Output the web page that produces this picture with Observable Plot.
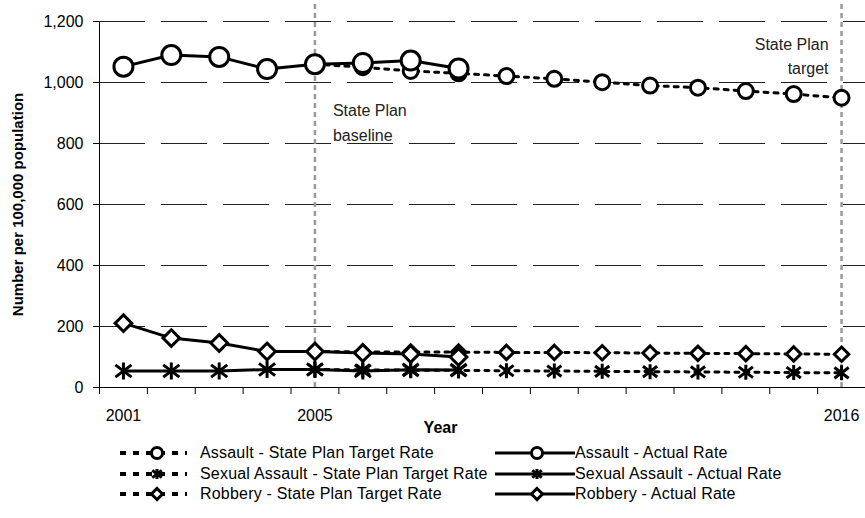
<!DOCTYPE html>
<html>
<head>
<meta charset="utf-8">
<script src="https://cdn.jsdelivr.net/npm/d3@7"></script>
<script src="https://cdn.jsdelivr.net/npm/@observablehq/plot@0.6"></script>
<style>
  html, body { margin: 0; padding: 0; background: #fff; }
  body { width: 865px; height: 518px; overflow: hidden; font-family: "Liberation Sans", Arial, sans-serif; }
  #legend { position: relative; width: 865px; height: 78px; font-size: 16px; color: #000; }
  .item { position: absolute; display: flex; align-items: center; height: 20px; white-space: nowrap; }
  .item svg { display: block; }
</style>
</head>
<body>
<div id="chart"></div>
<div id="legend"></div>
<script>
// ---- Data ----
const actualYears = [2001, 2002, 2003, 2004, 2005, 2006, 2007, 2008];
const targetYears = [2005, 2006, 2007, 2008, 2009, 2010, 2011, 2012, 2013, 2014, 2015, 2016];

const assaultActual = [1052, 1090, 1084, 1044, 1060, 1064, 1072, 1046];
const assaultTarget = [1060, 1050, 1038, 1030, 1021, 1012, 1001, 990, 983, 972, 962, 950];

const sexualActual = [54, 54, 54, 59, 59, 54, 58, 57];
const sexualTarget = [59, 58, 57, 56, 55, 54, 53, 52, 51, 50, 49, 48];

const robberyActual = [211, 162, 146, 118, 118, 113, 110, 100];
const robberyTarget = [118, 117, 116, 116, 115, 115, 114, 113, 112, 111, 110, 109];

const yTicks = [0, 200, 400, 600, 800, 1000, 1200];
const gridValues = [200, 400, 600, 800, 1000, 1200];
const xLabelYears = [2001, 2005, 2016];
const categoryBounds = d3.range(2000.5, 2017, 1);
const refYears = [2005, 2016];
const baselineNote = [{year: 2005, value: 874, text: "State Plan\nbaseline"}];
const targetNote = [{year: 2016, value: 1093, text: "State Plan\ntarget"}];
const legendLabels = [
  "Assault - State Plan Target Rate", "Assault - Actual Rate",
  "Sexual Assault - State Plan Target Rate", "Sexual Assault - Actual Rate",
  "Robbery - State Plan Target Rate", "Robbery - Actual Rate"
];

// ---- Build tidy series ----
const toRows = (years, vals) => years.map((year, i) => ({year, value: vals[i]}));
const aA = toRows(actualYears, assaultActual), aT = toRows(targetYears, assaultTarget);
const sA = toRows(actualYears, sexualActual), sT = toRows(targetYears, sexualTarget);
const rA = toRows(actualYears, robberyActual), rT = toRows(targetYears, robberyTarget);

// Excel-like star marker (vertical + X)
const star = {
  draw(ctx, size) {
    const r = Math.sqrt(size / Math.PI);
    const a = r * 0.95, b = r * 0.72;
    ctx.moveTo(0, -r); ctx.lineTo(0, r);
    ctx.moveTo(-a, -b); ctx.lineTo(a, b);
    ctx.moveTo(-a, b); ctx.lineTo(a, -b);
  }
};

const targetLine = {x: "year", y: "value", stroke: "#000", strokeWidth: 3, strokeDasharray: "4,6"};
const actualLine = {x: "year", y: "value", stroke: "#000", strokeWidth: 3};

const plot = Plot.plot({
  width: 865,
  height: 440,
  marginLeft: 99,
  marginRight: 0,
  marginTop: 21,
  marginBottom: 53,
  style: {fontFamily: "'Liberation Sans', Arial, sans-serif", fontSize: "16px", color: "#000", background: "#fff"},
  x: {type: "linear", domain: [2000.5, 2016.5]},
  y: {domain: [0, 1200]},
  marks: [
    Plot.ruleY(gridValues, {stroke: "#222", strokeWidth: 1, strokeDasharray: "46,16"}),
    Plot.ruleX(refYears, {stroke: "#999", strokeWidth: 2.5, strokeDasharray: "5,4", insetTop: -17}),
    Plot.ruleY([0], {stroke: "#000"}),
    Plot.ruleX([2000.5], {stroke: "#000"}),
    Plot.axisY({ticks: yTicks, tickFormat: d3.format(","), tickSize: 6, tickPadding: 10, label: null, fontSize: 16}),
    Plot.axisX({ticks: categoryBounds, tickSize: 7, tickFormat: () => "", label: null}),
    Plot.axisX({ticks: xLabelYears, tickSize: 0, tickPadding: 22, tickFormat: "d", label: null, fontSize: 16}),
    Plot.text(["Year"], {frameAnchor: "bottom", dx: -42, dy: 45, fontWeight: "bold", fontSize: 16}),
    Plot.text(["Number per 100,000 population"], {frameAnchor: "left", textAnchor: "middle", rotate: -90, dx: -81, fontWeight: "bold", fontSize: 15}),
    Plot.text(baselineNote, {x: "year", y: "value", text: "text", textAnchor: "start", dx: 18, fill: "#222", fontSize: 16, lineHeight: 1.55}),
    Plot.text(targetNote, {x: "year", y: "value", text: "text", textAnchor: "end", dx: -13, fill: "#222", fontSize: 16, lineHeight: 1.55}),

    // Assault
    Plot.line(aT, targetLine),
    Plot.dot(aT, {x: "year", y: "value", symbol: "circle", r: 7.5, stroke: "#000", strokeWidth: 3, fill: "#fff"}),
    Plot.line(aA, actualLine),
    Plot.dot(aA, {x: "year", y: "value", symbol: "circle", r: 9.5, stroke: "#000", strokeWidth: 3, fill: "#fff"}),
    // Sexual assault
    Plot.line(sT, targetLine),
    Plot.dot(sT, {x: "year", y: "value", symbol: star, r: 7.5, stroke: "#000", strokeWidth: 3}),
    Plot.line(sA, actualLine),
    Plot.dot(sA, {x: "year", y: "value", symbol: star, r: 8.5, stroke: "#000", strokeWidth: 3}),
    // Robbery
    Plot.line(rT, targetLine),
    Plot.dot(rT, {x: "year", y: "value", symbol: "diamond2", r: 6.5, stroke: "#000", strokeWidth: 3, fill: "#fff"}),
    Plot.line(rA, actualLine),
    Plot.dot(rA, {x: "year", y: "value", symbol: "diamond2", r: 7.5, stroke: "#000", strokeWidth: 3, fill: "#fff"})
  ]
});
document.getElementById("chart").appendChild(plot);

// ---- Legend ----
const legend = d3.select("#legend");
const symbolsList = [d3.symbolCircle, star, d3.symbolDiamond2];
const symR = [5.5, 5, 5];
const rowTop = [3, 23.5, 44];
legendLabels.forEach((label, i) => {
  const row = Math.floor(i / 2), col = i % 2;
  const item = legend.append("div").attr("class", "item")
    .style("left", col === 0 ? "120px" : "495px")
    .style("top", rowTop[row] + "px");
  const w = col === 0 ? 67 : 80;
  const svg = item.append("svg").attr("width", w).attr("height", 20);
  if (col === 0) {
    svg.append("line").attr("x1", 0).attr("x2", w).attr("y1", 10).attr("y2", 10)
      .attr("stroke", "#000").attr("stroke-width", 4).attr("stroke-dasharray", "6,7");
  } else {
    svg.append("line").attr("x1", 0).attr("x2", w).attr("y1", 10).attr("y2", 10)
      .attr("stroke", "#000").attr("stroke-width", 3);
  }
  const cx = col === 0 ? 37 : 42;
  const r = symR[row];
  svg.append("path")
    .attr("d", d3.symbol(symbolsList[row], r * r * Math.PI)())
    .attr("transform", `translate(${cx},10)`)
    .attr("fill", row === 1 ? "none" : "#fff")
    .attr("stroke", "#000").attr("stroke-width", 3);
  item.append("span").text(label)
    .style("margin-left", col === 0 ? "13px" : "0px")
    .style("letter-spacing", "0.2px");
});
</script>
</body>
</html>
